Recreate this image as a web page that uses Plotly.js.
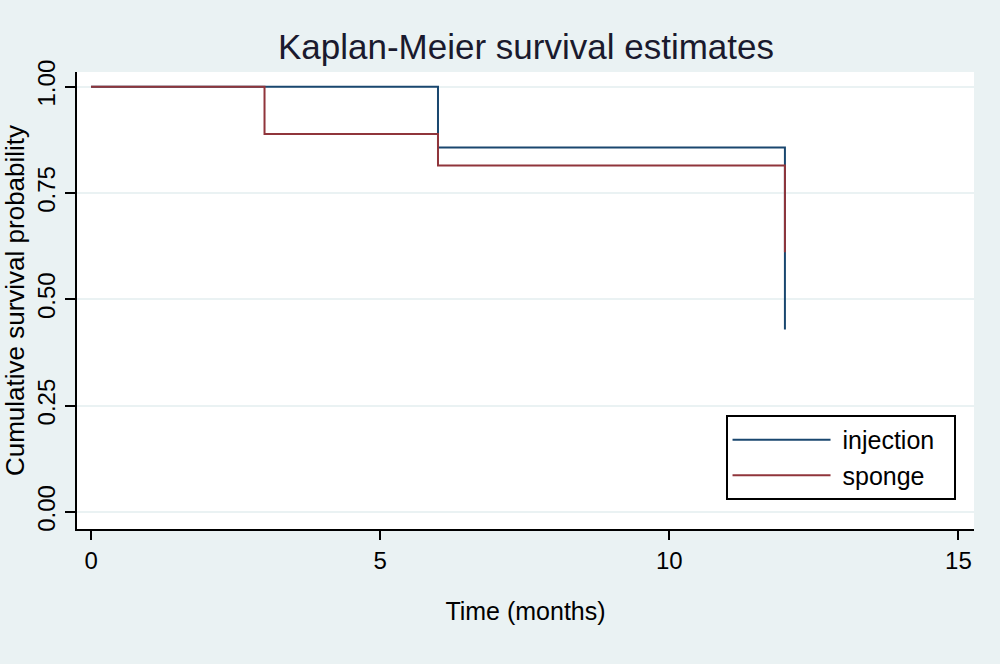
<!DOCTYPE html>
<html>
<head>
<meta charset="utf-8">
<script src="https://cdn.plot.ly/plotly-3.0.1.min.js"></script>
<style>
  html, body { margin: 0; padding: 0; background: #eaf2f3; }
  #kmDiv { width: 1000px; height: 664px; }
</style>
</head>
<body>
<div id="kmDiv"></div>
<script>
// step points (time in months, survival)
var injTime = [0, 6, 6, 12, 12];
var injSurv = [1, 1, 0.857, 0.857, 0.429];
var spoTime = [0, 3, 3, 6, 6, 12, 12];
var spoSurv = [1, 1, 0.889, 0.889, 0.815, 0.815, 0.611];

var xTicks = [0, 5, 10, 15];
var yTicks = [0, 0.25, 0.5, 0.75, 1];
var yTickText = ['0.00', '0.25', '0.50', '0.75', '1.00'];

var fontFam = '"Liberation Sans", Arial, sans-serif';
var nb = '\u00a0'; // non-breaking space, pads the legend text like Stata does

var trace1 = {
    x: injTime,
    y: injSurv,
    name: nb + 'injection' + nb + nb,
    mode: 'lines',
    line: {color: 'rgb(26,71,111)', width: 2},
    type: 'scatter'
};

var trace2 = {
    x: spoTime,
    y: spoSurv,
    name: nb + 'sponge',
    mode: 'lines',
    line: {color: 'rgb(144,53,59)', width: 2},
    type: 'scatter'
};

var data = [trace1, trace2];

var layout = {
    width: 1000,
    height: 664,
    paper_bgcolor: '#eaf2f3',
    plot_bgcolor: '#ffffff',
    margin: {l: 77, r: 26, t: 72, b: 135},
    font: {family: fontFam, size: 25, color: '#000000'},
    title: {
        text: 'Kaplan-Meier survival estimates',
        font: {family: fontFam, size: 35, color: '#1a1a2e'},
        x: 0.526, xref: 'container', xanchor: 'center',
        y: 0.93, yref: 'container', yanchor: 'middle'
    },
    xaxis: {
        range: [-0.243, 15.27],
        tickvals: xTicks,
        ticks: 'outside', ticklen: 9, tickwidth: 2, tickcolor: '#000',
        showline: true, linecolor: '#000', linewidth: 2,
        showgrid: false, zeroline: false,
        tickfont: {size: 24},
        title: {text: 'Time (months)', font: {size: 25}, standoff: 30}
    },
    yaxis: {
        range: [-0.04, 1.0346],
        tickvals: yTicks,
        ticktext: yTickText,
        tickangle: -90,
        ticks: 'outside', ticklen: 10, tickwidth: 2, tickcolor: '#000',
        showline: true, linecolor: '#000', linewidth: 2,
        showgrid: true, gridcolor: '#eaf2f3', gridwidth: 2,
        zeroline: false,
        tickfont: {size: 24},
        title: {text: 'Cumulative survival probability', font: {size: 26}, standoff: 2}
    },
    showlegend: true,
    legend: {
        x: 0.723, xanchor: 'left',
        y: 0.2495, yanchor: 'top',
        bgcolor: '#ffffff',
        bordercolor: '#000000',
        borderwidth: 2,
        itemwidth: 98,
        font: {size: 25}
    }
};

Plotly.newPlot('kmDiv', data, layout, {displayModeBar: false, staticPlot: true});
</script>
</body>
</html>
